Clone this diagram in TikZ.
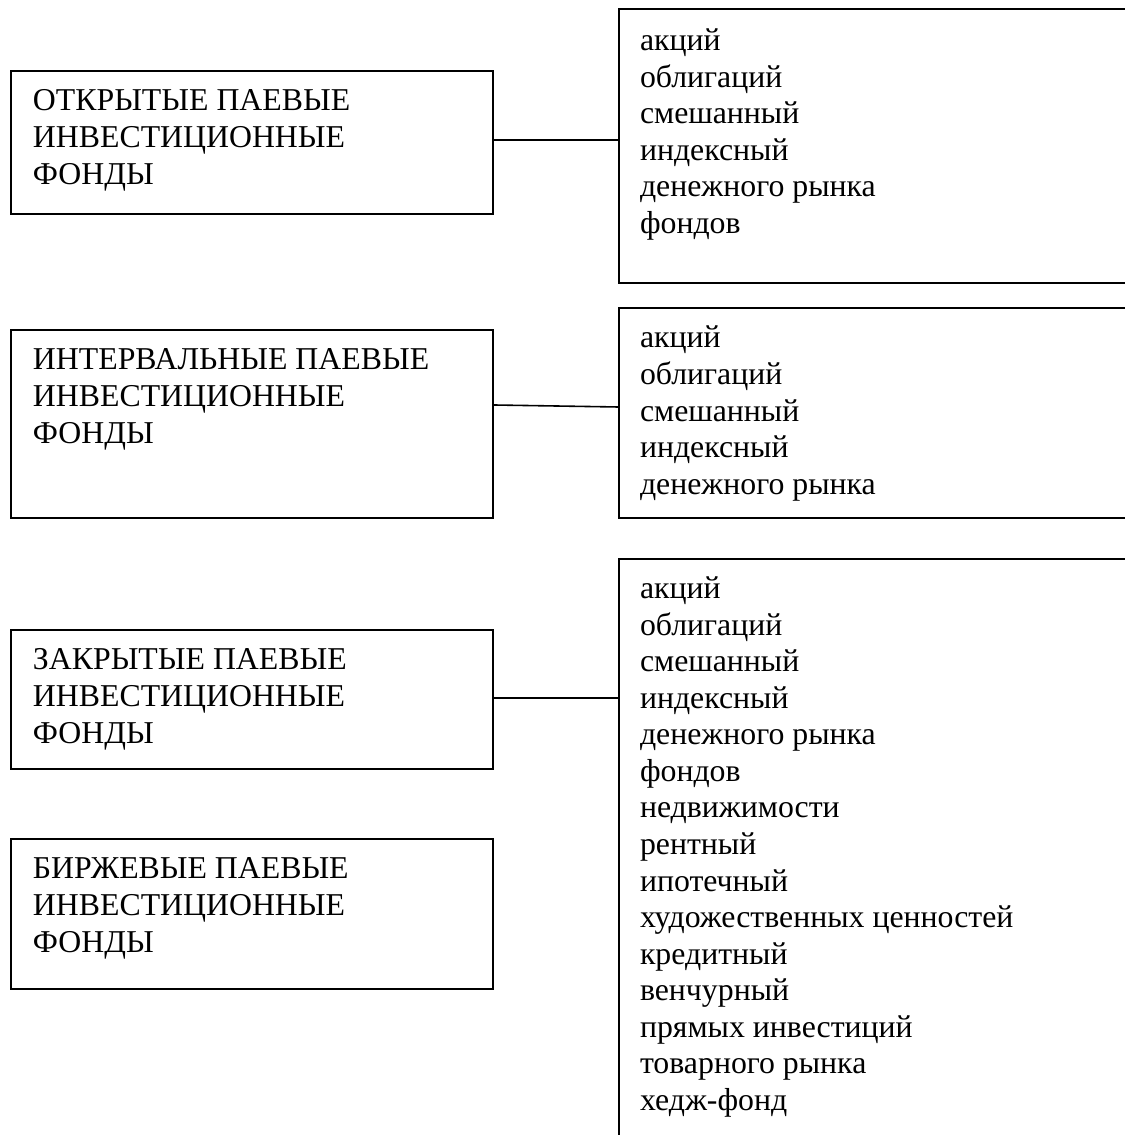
\documentclass[tikz,border=0pt]{standalone}
\usepackage{fontspec}
\setmainfont{Liberation Serif}
\newcommand{\px}[1]{#1*0.3774pt}

\begin{document}
\begin{tikzpicture}[x=0.3774pt, y=-0.3774pt, line width=0.75pt,
      fundbox/.style={draw, anchor=north west, inner sep=0pt, minimum width=\px{482}},
      listbox/.style={draw, anchor=north west, inner sep=0pt, minimum width=\px{700}},
      boxtxt/.style={anchor=north west, inner sep=0pt, align=left,
                     font=\fontsize{12}{13.8}\selectfont},
      link/.style={line width=0.6pt}]

    \useasboundingbox (0,0) rectangle (1125,1135);
    \clip (0,0) rectangle (1125,1135);

    % fund types (left column)
    \node[fundbox, minimum height=\px{143}] (open)  at (10,70)  {};
    \node[fundbox, minimum height=\px{188}] (inter) at (10,329) {};
    \node[fundbox, minimum height=\px{139}] (closed) at (10,629) {};
    \node[fundbox, minimum height=\px{150}] (exch)  at (10,838) {};

    \node[boxtxt] (openT)   at ([shift={(22,14.4)}]open.north west)
      {\strut ОТКРЫТЫЕ ПАЕВЫЕ\\ИНВЕСТИЦИОННЫЕ\\ФОНДЫ};
    \node[boxtxt] (interT)  at ([shift={(22,14.4)}]inter.north west)
      {\strut ИНТЕРВАЛЬНЫЕ ПАЕВЫЕ\\ИНВЕСТИЦИОННЫЕ\\ФОНДЫ};
    \node[boxtxt] (closedT) at ([shift={(22,14.4)}]closed.north west)
      {\strut ЗАКРЫТЫЕ ПАЕВЫЕ\\ИНВЕСТИЦИОННЫЕ\\ФОНДЫ};
    \node[boxtxt] (exchT)   at ([shift={(22,14.4)}]exch.north west)
      {\strut БИРЖЕВЫЕ ПАЕВЫЕ\\ИНВЕСТИЦИОННЫЕ\\ФОНДЫ};

    % categories (right column, cut by the page edge)
    \node[listbox, minimum height=\px{274}] (openL)   at (618,8)   {};
    \node[listbox, minimum height=\px{210}] (interL)  at (618,307) {};
    \node[listbox, minimum height=\px{700}] (closedL) at (618,558) {};

    \node[boxtxt] (openLT)   at ([shift={(21,16)}]openL.north west)
      {\strut акций\\облигаций\\смешанный\\индексный\\денежного рынка\\фондов};
    \node[boxtxt] (interLT)  at ([shift={(21,14.4)}]interL.north west)
      {\strut акций\\облигаций\\смешанный\\индексный\\денежного рынка};
    \node[boxtxt] (closedLT) at ([shift={(21,14)}]closedL.north west)
      {\strut акций\\облигаций\\смешанный\\индексный\\денежного рынка\\фондов\\
       недвижимости\\рентный\\ипотечный\\художественных ценностей\\кредитный\\
       венчурный\\прямых инвестиций\\товарного рынка\\хедж-фонд};

    % links
    \draw[link] ([shift={(0,-2.5)}]open.east) -- ([shift={(0,-2.5)}]open.east -| openL.west);
    \draw[link] ([shift={(0,-19)}]inter.east) -- ([shift={(0,-17)}]inter.east -| interL.west);
    \draw[link] ([shift={(0,-1.5)}]closed.east) -- ([shift={(0,-1.5)}]closed.east -| closedL.west);

\end{tikzpicture}
\end{document}
